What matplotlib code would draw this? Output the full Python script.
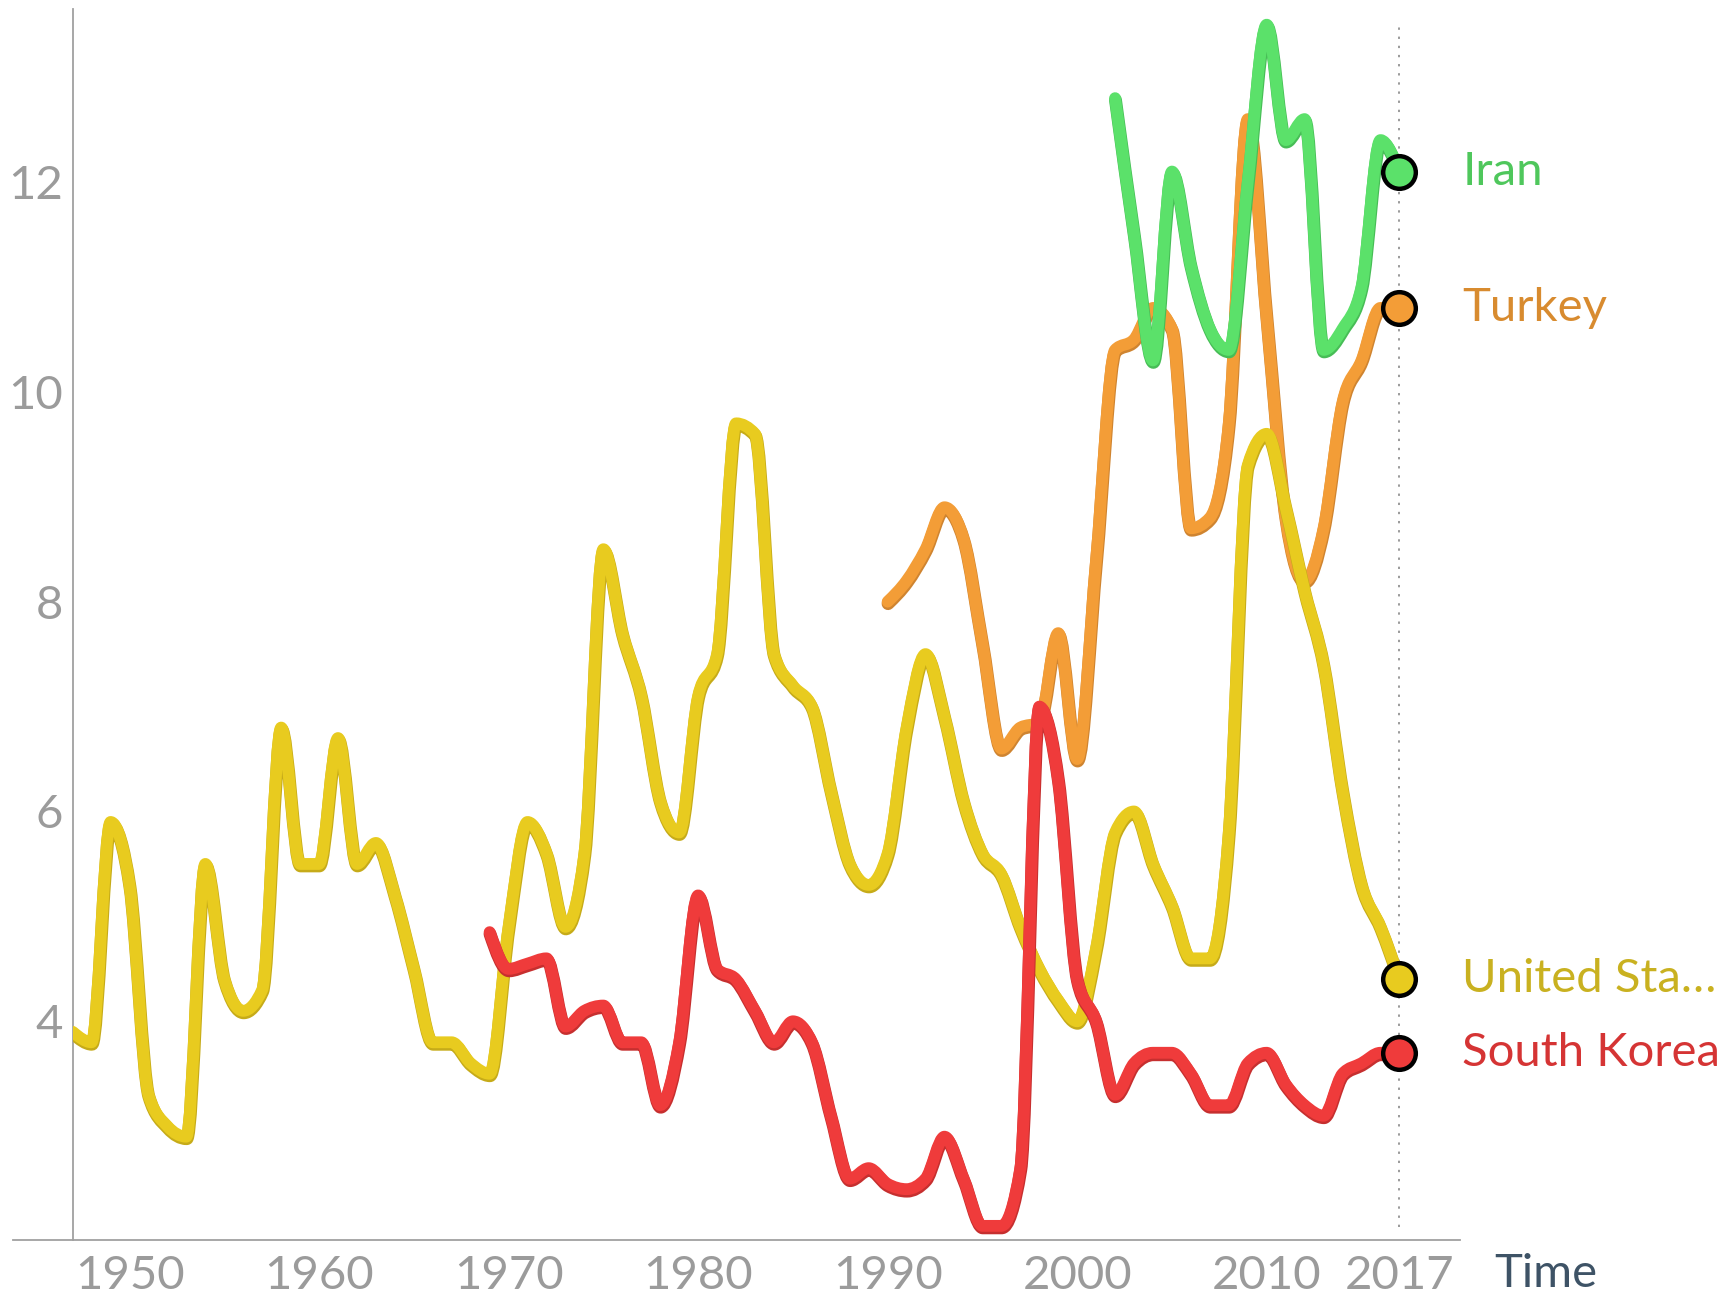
import numpy as np
import matplotlib
matplotlib.use("Agg")
import matplotlib.pyplot as plt
from matplotlib.path import Path
from matplotlib.patches import PathPatch
import matplotlib.patheffects as pe

plt.rcParams['font.family'] = ['Lato', 'DejaVu Sans']

# unemployment rate (%), yearly
us_years = list(range(1947, 2018))
us_rate = [3.9, 3.8, 5.9, 5.3, 3.3, 3.0, 2.9, 5.5, 4.4, 4.1,
           4.3, 6.8, 5.5, 5.5, 6.7, 5.5, 5.7, 5.2, 4.5, 3.8,
           3.8, 3.6, 3.5, 4.9, 5.9, 5.6, 4.9, 5.6, 8.5, 7.7,
           7.1, 6.1, 5.8, 7.1, 7.5, 9.7, 9.6, 7.5, 7.2, 7.0,
           6.2, 5.5, 5.3, 5.6, 6.8, 7.5, 6.9, 6.1, 5.6, 5.4,
           4.9, 4.5, 4.2, 4.0, 4.7, 5.8, 6.0, 5.5, 5.1, 4.6,
           4.6, 5.8, 9.3, 9.6, 8.9, 8.1, 7.4, 6.2, 5.3, 4.9,
           4.4]

kr_years = list(range(1969, 2018))
kr_rate = [4.85, 4.5, 4.55, 4.6, 3.95, 4.1, 4.15, 3.8, 3.8, 3.2,
           3.8, 5.2, 4.5, 4.4, 4.1, 3.8, 4.0, 3.8, 3.1, 2.5,
           2.6, 2.45, 2.4, 2.5, 2.9, 2.5, 2.05, 2.05, 2.6, 7.0,
           6.3, 4.4, 4.0, 3.3, 3.6, 3.7, 3.7, 3.5, 3.2, 3.2,
           3.6, 3.7, 3.4, 3.2, 3.1, 3.5, 3.6, 3.7, 3.7]

tr_years = list(range(1990, 2018))
tr_rate = [8.0, 8.2, 8.5, 8.9, 8.6, 7.6, 6.6, 6.8, 6.85, 7.7,
           6.5, 8.4, 10.4, 10.5, 10.8, 10.6, 8.7, 8.8, 9.7, 12.6,
           10.7, 8.8, 8.2, 8.7, 9.9, 10.3, 10.8, 10.8]

ir_years = list(range(2002, 2018))
ir_rate = [12.8, 11.5, 10.3, 12.1, 11.2, 10.6, 10.4, 12.0, 13.5, 12.4,
           12.6, 10.4, 10.6, 11.0, 12.4, 12.1]

# drawing order bottom -> top
series = [
    ("Turkey", tr_years, tr_rate, "#F39D37", "#CF8430", "#D88B2F"),
    ("Iran", ir_years, ir_rate, "#5BE16A", "#47BD56", "#4FC75C"),
    ("United Sta\u2026", us_years, us_rate, "#E8CB1F", "#C6AB19", "#C9B120"),
    ("South Korea", kr_years, kr_rate, "#EF3B3B", "#C62F2F", "#D53434"),
]

x_ticks = [1950, 1960, 1970, 1980, 1990, 2000, 2010, 2017]


def monotone_path(xs, ys):
    # monotone cubic (same idea as d3 curveMonotoneX), as bezier segments
    x = np.asarray(xs, float)
    y = np.asarray(ys, float)
    n = len(x)
    h = np.diff(x)
    s = np.diff(y) / h
    t = np.zeros(n)
    for i in range(1, n - 1):
        p = (s[i - 1] * h[i] + s[i] * h[i - 1]) / (h[i - 1] + h[i])
        t[i] = (np.sign(s[i - 1]) + np.sign(s[i])) * min(abs(s[i - 1]), abs(s[i]), 0.5 * abs(p))
    t[0] = (3 * s[0] - t[1]) / 2 if n > 2 else s[0]
    t[-1] = (3 * s[-1] - t[-2]) / 2 if n > 2 else s[-1]
    verts = [(x[0], y[0])]
    codes = [Path.MOVETO]
    for i in range(n - 1):
        d = h[i] / 3
        verts += [(x[i] + d, y[i] + d * t[i]), (x[i + 1] - d, y[i + 1] - d * t[i + 1]), (x[i + 1], y[i + 1])]
        codes += [Path.CURVE4] * 3
    return Path(verts, codes)


fig = plt.figure(figsize=(17.26, 12.99), dpi=100)
ax = fig.add_axes([0.0421, 0.0458, 0.8038, 0.9473])
ax.set_xlim(1947, 2020.2)
ax.set_ylim(1.92, 13.65)

grey = "#A0A0A0"
for sp in ["top", "right", "bottom"]:
    ax.spines[sp].set_visible(False)
ax.spines["left"].set_color(grey)
ax.spines["left"].set_linewidth(1.3)
# x axis line runs a little past the y axis
ax.plot([-0.043, 1.0], [0, 0], transform=ax.transAxes, color=grey, lw=1.3, clip_on=False)

ax.set_xticks(x_ticks)
ax.set_xticklabels([str(v) for v in x_ticks])
ax.set_yticks([4, 6, 8, 10, 12])
ax.tick_params(axis="both", length=0, labelsize=34, labelcolor="#9B9B9B")
ax.tick_params(axis="x", pad=11)
ax.tick_params(axis="y", pad=7)

# marker line for the latest year
ax.axvline(x_ticks[-1], ymin=0.01, ymax=0.99, color="#9A9A9A", lw=1.4, ls=(0, (1.2, 3.5)), zorder=1)

lw = 8.5
for i, (name, xs, ys, col, dark, txtcol) in enumerate(series):
    patch = PathPatch(monotone_path(xs, ys), fill=False, edgecolor=col, lw=lw,
                      capstyle="round", joinstyle="round", zorder=2 + i,
                      path_effects=[pe.Stroke(offset=(0.3, -1.4), linewidth=lw + 0.8, foreground=dark),
                                    pe.Normal()])
    ax.add_patch(patch)
    ax.plot([xs[-1]], [ys[-1]], "o", ms=23.5, mfc=col, mec="black", mew=3.2, zorder=10, clip_on=False)
    ax.text(2020.33, ys[-1], name, color=txtcol, fontsize=34,
            ha="left", va="center", clip_on=False)

ax.text(1.025, -0.028, "Time", transform=ax.transAxes, color="#3E5366", fontsize=34,
        ha="left", va="center")

fig.savefig("out.png", dpi=100)
